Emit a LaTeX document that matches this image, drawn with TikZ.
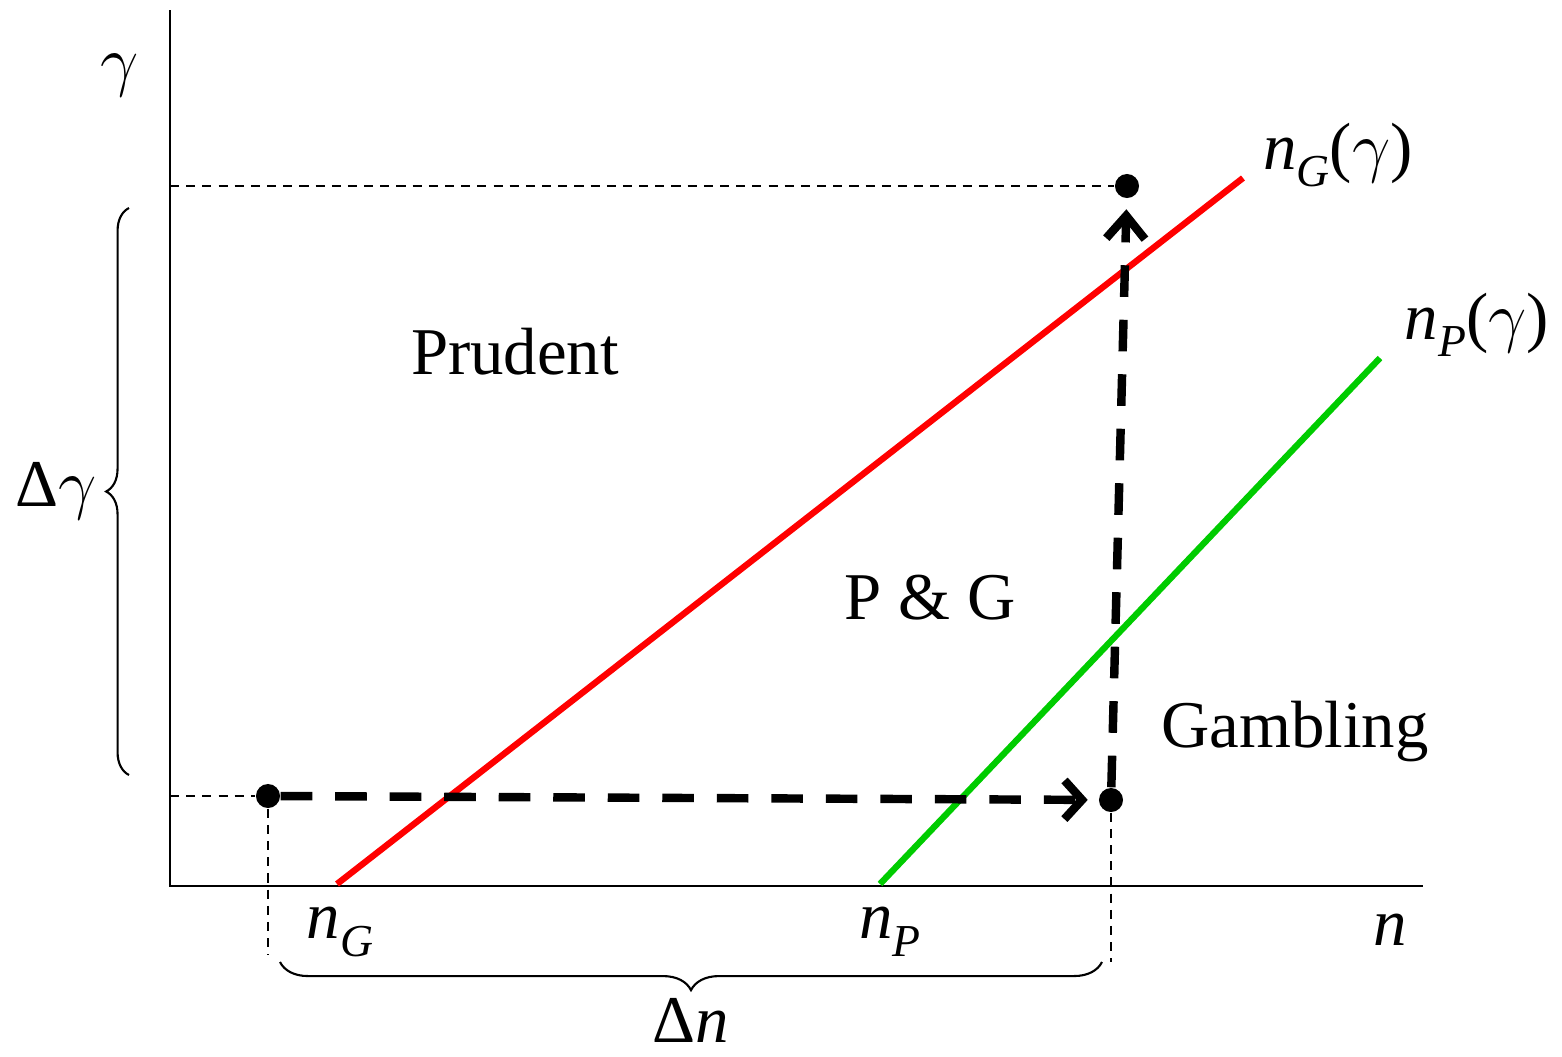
\documentclass[tikz,border=0pt]{standalone}
\usepackage{amsmath}
\usepackage{fontspec}
\setmainfont{Liberation Serif}
\usepackage{tikz}
\usepackage{xcolor}
\usetikzlibrary{arrows.meta, positioning, calc, decorations.pathreplacing}
\definecolor{pgreen}{RGB}{0,204,0}
\newcommand{\nsym}{\textit{n}}
\newcommand{\gsym}{\scalebox{1.12}{$\gamma$}}

\begin{document}
\begin{tikzpicture}[x=0.01cm, y=-0.01cm,
    axis/.style={line width=0.85pt},
    guide/.style={line width=0.6pt, dash pattern=on 2.6pt off 2pt},
    move/.style={line width=2.4pt, dash pattern=on 9pt off 6.5pt},
    dot/.style={circle, fill=black, inner sep=0pt, minimum width=0.21cm, minimum height=0.24cm},
    lbl/.style={font=\fontsize{19}{22}\selectfont, inner sep=1pt},
    region/.style={font=\fontsize{19}{22}\selectfont}
  ]
    \useasboundingbox (0,0) rectangle (1562,1057);
    % Achsen
    \coordinate (O) at (170,886);
    \draw[axis] (170,10) -- (O) -- (1423,886);
    \node[lbl] (ylab) at (120,75) {\gsym};
    \node[lbl] (xlab) at (1390,930) {\nsym};
    % Grenzlinien
    \coordinate (nG0) at (337,884);
    \coordinate (nG1) at (1243,178);
    \coordinate (nP0) at (880,884);
    \coordinate (nP1) at (1380,358);
    \draw[red, line width=1.8pt] (nG0) -- (nG1);
    \draw[pgreen, line width=1.8pt] (nP0) -- (nP1);
    \node[lbl] (nGlab) at (340,932) {\nsym\raisebox{-5pt}{\fontsize{13}{14}\selectfont\textit{G}}};
    \node[lbl] (nPlab) at (890,932) {\nsym\raisebox{-5pt}{\fontsize{13}{14}\selectfont\textit{P}}};
    \node[lbl] (nGg) at (1338,155) {\nsym\raisebox{-5pt}{\fontsize{13}{14}\selectfont\textit{G}}(\gsym)};
    \node[lbl] (nPg) at (1477,325) {\nsym\raisebox{-5pt}{\fontsize{13}{14}\selectfont\textit{P}}(\gsym)};
    \node[region] (prud) at (515,352) {Prudent};
    \node[region] (pg) at (930,598) {P \& G};
    \node[region] (gamb) at (1295,732) {Gambling};
    % Punkte und Verschiebung
    \node[dot] (A) at (268,796) {};
    \node[dot] (B) at (1111,800) {};
    \node[dot] (C) at (1127,186) {};
    \coordinate (ya) at (170,796);
    \coordinate (yc) at (170,186);
    \coordinate (xa) at (268,955);
    \coordinate (xb) at (1111,962);
    \draw[guide] (ya) -- (A);
    \draw[guide] (yc) -- (C);
    \draw[guide] (A) -- (xa);
    \draw[guide] (B) -- (xb);
    \draw[move, shorten >=3pt, -{Straight Barb[length=5pt,width=11pt,line width=2.4pt]}] (A) -- (B);
    \draw[move, shorten >=3pt, -{Straight Barb[length=6.5pt,width=11pt,line width=2.4pt]}] (B) -- (C);
    % Klammern
    \draw[line width=0.6pt, decorate, decoration={brace, amplitude=6.5pt}]
      (129,775) -- (129,208) node[midway, left=8pt, lbl] (dg) {Δ\gsym};
    \draw[line width=0.6pt, decorate, decoration={brace, amplitude=8pt}]
      (1102,962) -- (280,962) node[midway, below=9pt, lbl] (dn) {Δ\nsym};
\end{tikzpicture}
\end{document}
